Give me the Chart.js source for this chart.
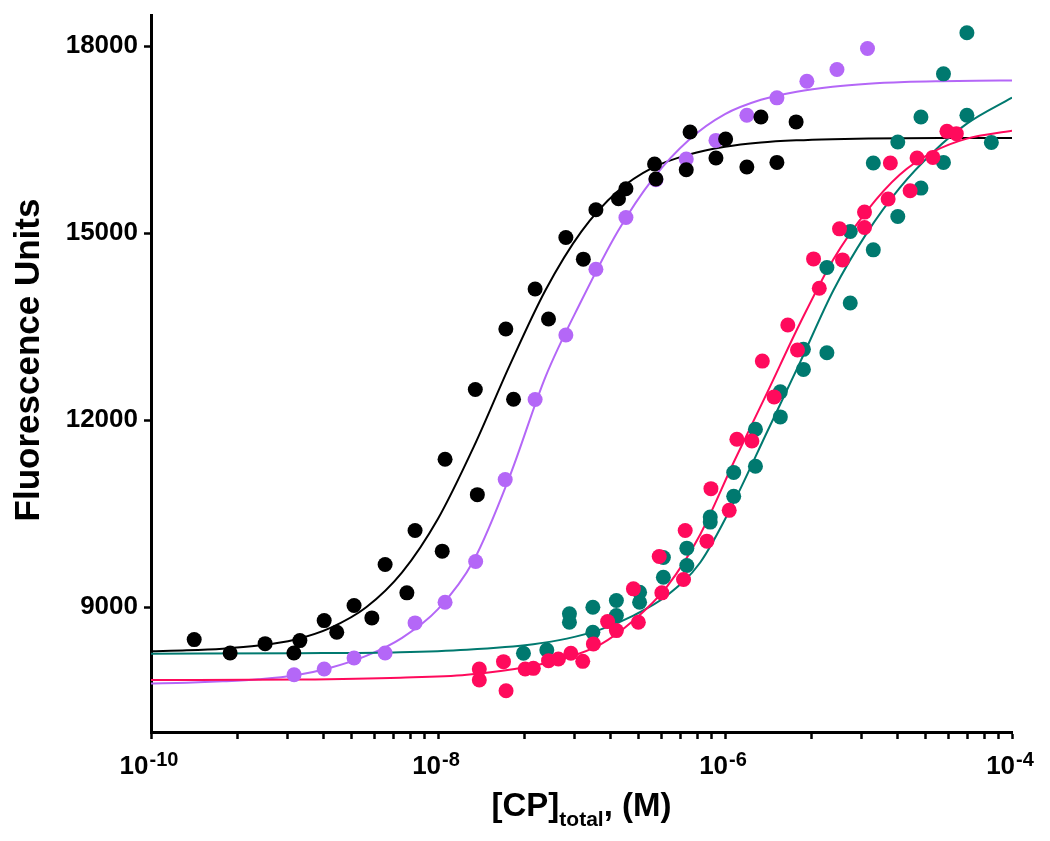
<!DOCTYPE html>
<html>
<head>
<meta charset="utf-8">
<script src="https://cdn.jsdelivr.net/npm/chart.js@4.4.1/dist/chart.umd.min.js"></script>
<style>
  html, body { margin: 0; padding: 0; background: #ffffff; }
  #c { display: block; }
</style>
</head>
<body>
<canvas id="c" width="1050" height="841"></canvas>
<script>
// ---------- data ----------
const blackX = [2.0e-10, 3.56e-10, 6.24e-10, 9.9e-10, 1.09e-9, 1.61e-9, 1.97e-9, 2.60e-9, 3.46e-9, 4.28e-9, 6.07e-9, 6.92e-9, 1.07e-8, 1.12e-8, 1.88e-8, 1.82e-8, 2.97e-8, 3.36e-8, 4.75e-8, 5.89e-8, 7.78e-8, 1.03e-7, 1.26e-7, 1.81e-7, 2.04e-7, 3.23e-7, 3.30e-7, 5.37e-7, 5.71e-7, 8.65e-7, 1.01e-6, 1.42e-6, 1.78e-6, 2.30e-6, 3.13e-6];
const blackY = [8482, 8268, 8417, 8268, 8466, 8787, 8599, 9028, 8830, 9687, 9232, 10233, 9901, 11374, 10807, 12494, 13463, 12338, 14106, 13624, 14931, 14584, 15376, 15553, 15713, 16110, 15869, 16019, 16624, 16207, 16512, 16062, 16865, 16136, 16785];

const purpleX = [9.93e-10, 1.61e-9, 2.60e-9, 4.28e-9, 6.92e-9, 1.12e-8, 1.83e-8, 2.94e-8, 4.75e-8, 7.78e-8, 1.26e-7, 2.04e-7, 3.30e-7, 5.37e-7, 8.65e-7, 1.42e-6, 2.30e-6, 3.72e-6, 6.03e-6, 9.84e-6];
const purpleY = [7919, 8011, 8188, 8268, 8750, 9081, 9735, 11048, 12334, 13367, 14423, 15252, 15858, 16191, 16489, 16891, 17171, 17438, 17626, 17963];

const pinkX = [1.94e-8, 1.94e-8, 2.86e-8, 2.98e-8, 4.05e-8, 4.62e-8, 5.89e-8, 6.90e-8, 8.43e-8, 1.02e-7, 1.21e-7, 1.52e-7, 1.75e-7, 2.30e-7, 2.49e-7, 3.48e-7, 3.63e-7, 5.14e-7, 5.28e-7, 7.48e-7, 7.98e-7, 1.07e-6, 1.21e-6, 1.54e-6, 1.82e-6, 2.20e-6, 2.74e-6, 3.20e-6, 4.14e-6, 4.54e-6, 6.28e-6, 6.59e-6, 9.38e-6, 9.38e-6, 1.37e-5, 1.42e-5, 1.95e-5, 2.18e-5, 2.81e-5, 3.52e-5, 4.09e-5];
const pinkY = [8011, 7834, 8128, 7662, 8011, 8021, 8144, 8172, 8262, 8133, 8413, 8771, 8626, 9296, 8760, 9816, 9232, 9446, 10233, 10061, 10903, 10555, 11696, 11668, 12949, 12375, 13528, 13126, 14588, 14117, 15070, 14572, 15339, 15091, 15548, 16126, 15681, 16207, 16216, 16634, 16597];

const tealX = [3.94e-8, 5.73e-8, 8.24e-8, 8.24e-8, 1.20e-7, 1.20e-7, 1.75e-7, 1.75e-7, 2.54e-7, 2.54e-7, 3.72e-7, 3.72e-7, 5.42e-7, 5.42e-7, 7.89e-7, 7.89e-7, 1.15e-6, 1.15e-6, 1.63e-6, 1.63e-6, 2.43e-6, 2.43e-6, 3.52e-6, 3.52e-6, 5.13e-6, 5.13e-6, 7.46e-6, 7.46e-6, 1.08e-5, 1.08e-5, 1.60e-5, 1.60e-5, 2.32e-5, 2.32e-5, 3.33e-5, 3.33e-5, 4.85e-5, 4.85e-5, 7.18e-5];
const tealY = [8262, 8316, 8895, 8760, 9001, 8599, 9108, 8867, 9081, 9242, 9483, 9799, 9949, 9671, 10447, 10367, 11161, 10780, 11856, 11262, 12054, 12456, 12816, 13137, 13083, 14449, 13881, 15027, 14733, 16126, 15268, 16464, 15724, 16865, 16136, 17556, 16891, 18215, 16457];

// fitted curves (quarter-decade points for black / purple)
const fitQuarterX = [1e-10, 1.78e-10, 3.16e-10, 5.62e-10, 1e-9, 1.78e-9, 3.16e-9, 5.62e-9, 1e-8, 1.78e-8, 3.16e-8, 5.62e-8, 1e-7, 1.78e-7, 3.16e-7, 5.62e-7, 1e-6, 1.78e-6, 3.16e-6, 5.62e-6, 1e-5, 1.78e-5, 3.16e-5, 5.62e-5, 1e-4];
const blackFitY = [8296, 8310, 8336, 8386, 8480, 8670, 9000, 9560, 10420, 11580, 12880, 14090, 15030, 15670, 16055, 16263, 16387, 16455, 16490, 16509, 16519, 16524, 16527, 16528, 16529];
const purpleFitY = [7779, 7790, 7812, 7845, 7905, 8030, 8220, 8510, 8970, 9760, 11100, 12700, 13920, 15020, 15880, 16500, 16910, 17140, 17270, 17350, 17398, 17424, 17437, 17445, 17449];

const tealFitX = [1e-10, 1.09e-9, 5.45e-9, 1.59e-8, 4.62e-8, 7.91e-8, 1.35e-7, 2.30e-7, 3.94e-7, 6.72e-7, 1.15e-6, 1.96e-6, 3.34e-6, 5.71e-6, 9.75e-6, 1.65e-5, 2.84e-5, 4.85e-5, 1e-4];
const tealFitY = [8257, 8265, 8281, 8321, 8409, 8498, 8642, 8867, 9189, 9719, 10683, 11808, 12933, 14090, 15006, 15729, 16308, 16758, 17176];

const pinkFitX = [1e-10, 1.09e-9, 5.45e-9, 1.59e-8, 4.62e-8, 7.91e-8, 1.35e-7, 2.30e-7, 3.94e-7, 6.72e-7, 1.15e-6, 1.96e-6, 3.34e-6, 5.71e-6, 9.75e-6, 1.65e-5, 2.84e-5, 4.85e-5, 1e-4];
const pinkFitY = [7834, 7842, 7871, 7919, 8064, 8192, 8401, 8787, 9333, 10169, 11326, 12435, 13560, 14588, 15360, 15938, 16308, 16517, 16645];

// axis ticks
const xTickValues = [1e-10, 4e-10, 9e-10, 1.6e-9, 2.5e-9, 3.6e-9, 4.9e-9, 6.4e-9, 8.1e-9,
                     1e-8, 4e-8, 9e-8, 1.6e-7, 2.5e-7, 3.6e-7, 4.9e-7, 6.4e-7, 8.1e-7,
                     1e-6, 4e-6, 9e-6, 1.6e-5, 2.5e-5, 3.6e-5, 4.9e-5, 6.4e-5, 8.1e-5, 1e-4];
const xMajorTicks = [1e-10, 1e-8, 1e-6, 1e-4];
const xMajorExponents = ['-10', '-8', '-6', '-4'];
const yTickValues = [9000, 12000, 15000, 18000];
const xTitleParts = ['[CP]', 'total', ', (M)'];
const yTitle = 'Fluorescence Units';

// ---------- chart ----------
const COL = { black: '#000000', purple: '#b467f7', teal: '#00796f', pink: '#ff0a5c' };
const FONT = '"Liberation Sans", Arial, Helvetica, sans-serif';

function pts(xs, ys) { return xs.map((v, i) => ({ x: v, y: ys[i] })); }

function dotSet(label, xs, ys, color, order) {
  return { label, data: pts(xs, ys), showLine: false, pointRadius: 7.5, pointHoverRadius: 7.5,
           pointBackgroundColor: color, pointBorderColor: color, pointBorderWidth: 0, order };
}
function fitSet(label, xs, ys, color, order) {
  return { label, data: pts(xs, ys), showLine: true, pointRadius: 0, borderColor: color,
           borderWidth: 2, cubicInterpolationMode: 'monotone', fill: false, order };
}

const axisLabelPlugin = {
  id: 'axisLabels',
  afterDraw(chart) {
    const { ctx, chartArea, scales } = chart;
    const x = scales.x;
    ctx.save();
    ctx.fillStyle = '#000';
    ctx.textBaseline = 'alphabetic';
    ctx.textAlign = 'left';
    // x tick labels: 10 with superscript exponent
    xMajorTicks.forEach((v, i) => {
      const px = x.getPixelForValue(v);
      ctx.font = 'bold 26px ' + FONT;
      const bw = ctx.measureText('10').width + 1;
      ctx.font = 'bold 20px ' + FONT;
      const ew = ctx.measureText(xMajorExponents[i]).width;
      const start = px - (bw + ew) / 2 - 2;
      ctx.font = 'bold 26px ' + FONT;
      ctx.fillText('10', start, 774);
      ctx.font = 'bold 20px ' + FONT;
      ctx.fillText(xMajorExponents[i], start + bw, 766);
    });
    // x axis title with subscript
    const fMain = 'bold 33px ' + FONT, fSub = 'bold 21px ' + FONT;
    ctx.font = fMain; const w0 = ctx.measureText(xTitleParts[0]).width;
    ctx.font = fSub;  const w1 = ctx.measureText(xTitleParts[1]).width;
    ctx.font = fMain; const w2 = ctx.measureText(xTitleParts[2]).width;
    let sx = (chartArea.left + chartArea.right) / 2 - (w0 + w1 + w2) / 2;
    ctx.font = fMain; ctx.fillText(xTitleParts[0], sx, 816); sx += w0;
    ctx.font = fSub;  ctx.fillText(xTitleParts[1], sx, 826); sx += w1;
    ctx.font = fMain; ctx.fillText(xTitleParts[2], sx, 816);
    // y axis title, rotated
    ctx.translate(29, 360);
    ctx.rotate(-Math.PI / 2);
    ctx.font = 'bold 35px ' + FONT;
    ctx.textAlign = 'center';
    ctx.textBaseline = 'middle';
    ctx.fillText(yTitle, 0, 0);
    ctx.restore();
  }
};

new Chart(document.getElementById('c'), {
  type: 'scatter',
  data: {
    datasets: [
      fitSet('Black fit', fitQuarterX, blackFitY, COL.black, 8),
      fitSet('Purple fit', fitQuarterX, purpleFitY, COL.purple, 7),
      fitSet('Teal fit', tealFitX, tealFitY, COL.teal, 6),
      fitSet('Pink fit', pinkFitX, pinkFitY, COL.pink, 5),
      dotSet('Teal', tealX, tealY, COL.teal, 4),
      dotSet('Pink', pinkX, pinkY, COL.pink, 3),
      dotSet('Purple', purpleX, purpleY, COL.purple, 2),
      dotSet('Black', blackX, blackY, COL.black, 1)
    ]
  },
  options: {
    responsive: false,
    animation: false,
    devicePixelRatio: 1,
    layout: { padding: { top: 15, right: 38, left: 0, bottom: 0 } },
    plugins: { legend: { display: false }, tooltip: { enabled: false } },
    scales: {
      x: {
        type: 'logarithmic',
        min: 1e-10, max: 1e-4,
        afterBuildTicks: (s) => { s.ticks = xTickValues.map(v => ({ value: v })); },
        afterFit: (s) => { s.height = 109; s.paddingLeft = 0; s.paddingRight = 0; },
        ticks: { callback: () => '', autoSkip: false, maxRotation: 0, padding: 0 },
        grid: { display: true, drawOnChartArea: false, drawTicks: true, tickLength: 7,
                tickWidth: 2.5, tickColor: '#000', color: '#000' },
        border: { display: true, color: '#000', width: 3 },
        title: { display: false }
      },
      y: {
        type: 'linear',
        min: 7000, max: 18500,
        afterBuildTicks: (s) => { s.ticks = yTickValues.map(v => ({ value: v })); },
        afterFit: (s) => { s.width = 151; s.paddingTop = 0; s.paddingBottom = 0; },
        ticks: { color: '#000', padding: 6, font: { family: FONT, size: 26, weight: 'bold' },
                 callback: (v) => String(v) },
        grid: { display: true, drawOnChartArea: false, drawTicks: true, tickLength: 7,
                tickWidth: 2.5, tickColor: '#000', color: '#000' },
        border: { display: true, color: '#000', width: 3 },
        title: { display: false }
      }
    }
  },
  plugins: [axisLabelPlugin]
});
</script>
</body>
</html>
